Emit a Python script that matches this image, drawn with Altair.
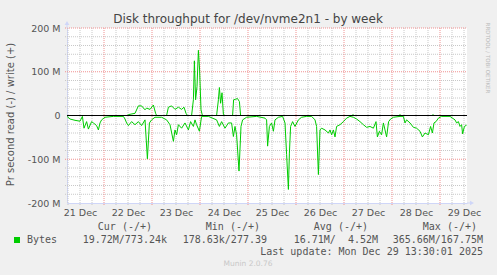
import altair as alt
import pandas as pd

# ---- data (hours since Dec 21 05:30, values in MB/s) ----
read_h = [0, 1.5, 4, 6.5, 7.7, 8.5, 9.8, 10.7, 12.3, 13.2,
          14.8, 15.7, 16.5, 17.3, 19, 23.2, 28.2, 29, 29.8, 30.7,
          32.3, 34, 35.7, 37.3, 39, 40.2, 41.2, 42.3, 44, 47.3,
          49.8, 51.5, 53.2, 54, 54.8, 55.7, 57.3, 59, 60.7, 61.8,
          63.2, 64, 64.8, 66.2, 67.3, 70.7, 74.8, 76.2, 77.3, 79,
          80.7, 82.3, 83.2, 84, 84.8, 86, 87, 87.8, 89.8, 94.8,
          99, 99.8, 100.3, 101.2, 102.3, 103.2, 104, 105.7, 107.8, 109,
          109.8, 110.7, 111.2, 111.8, 112.8, 114, 115.7, 117.3, 119.8, 122.3,
          124, 124.8, 125.7, 126.5, 127.3, 129, 130.7, 131.5, 132.3, 133.2,
          134, 134.8, 136.5, 138.2, 139.8, 141.5, 143.2, 144.8, 146.5, 148.2,
          149.8, 151.5, 153.2, 154.5, 155.2, 156.2, 157.3, 158.2, 159, 159.8,
          160.8, 161.8, 163.2, 166.5, 168.2, 169, 169.8, 171.5, 173.2, 174.8,
          176.5, 177.7, 179, 180.7, 181.8, 182.7, 183.5, 184.5, 185.7, 187.3,
          191.5, 194, 194.8, 195.7, 196.5, 197.3, 197.8, 198.7, 199.8]
read_v = [-2, -8, -11, -13, -2, -29, -14, -31, -14, -17,
          -23, -33, -17, -10, -4, -2, -2, -8, -17, -23,
          -14, -21, -14, -23, -10, -99, -17, -10, -4, -4,
          -10, -21, -59, -33, -44, -21, -29, -17, -33, -14,
          -25, -10, -21, -36, -2, -2, -10, -25, -14, -29,
          -17, -17, -48, -25, -44, -127, -25, -10, -4, -2,
          -6, -10, -70, -25, -17, -36, -10, -4, -2, -17,
          -89, -169, -86, -25, -14, -25, -10, -4, -2, -2,
          -10, -25, -135, -33, -29, -33, -40, -33, -44, -33,
          -49, -25, -21, -14, -6, -2, -4, -8, -14, -21,
          -27, -25, -29, -14, -49, -36, -44, -17, -33, -49,
          -14, -8, -4, -2, -2, -17, -10, -17, -27, -29,
          -36, -49, -40, -44, -25, -40, -17, -14, -6, -2,
          -2, -10, -17, -14, -25, -21, -42, -25, -22]
write_h = [0, 30, 30.7, 34, 35.7, 37.3, 39, 39.8, 41.5, 43.2,
           44.3, 44.8, 49.8, 50.7, 52.3, 54, 55.7, 57.3, 58.5, 59.5,
           60.2, 62.3, 63.2, 63.7, 64.3, 65, 65.7, 66.3, 67, 67.7,
           74.8, 75.7, 76.2, 76.8, 77.5, 78.2, 79, 82.8, 83.3, 84.3,
           85.2, 86.2, 86.8, 142.5, 143, 143.5, 166, 166.5, 167, 182.5,
           183, 183.5, 200]
write_v = [0, 0, 2, 5, 22, 22, 13, 17, 14, 24,
           5, 0, 0, 19, 22, 14, 19, 14, 19, 5,
           0, 0, 36, 125, 36, 66, 149, 104, 13, 0,
           0, 36, 64, 28, 52, 2, 0, 0, 36, 37,
           39, 32, 0, 0, 2, 0, 0, 2, 0, 0,
           2, 0, 0]

day_labels = ["21 Dec", "22 Dec", "23 Dec", "24 Dec", "25 Dec",
              "26 Dec", "27 Dec", "28 Dec", "29 Dec"]
day_label_h = [6.5, 30.5, 54.5, 78.5, 102.5, 126.5, 150.5, 174.5, 198.5]
y_ticks = [-200, -100, 0, 100, 200]
y_tick_labels = ["-200 M", "-100 M", "0", "100 M", "200 M"]

title_text = "Disk throughput for /dev/nvme2n1 - by week"
y_title = "Pr second read (-) / write (+)"
legend_headers = ["Cur (-/+)", "Min (-/+)", "Avg (-/+)", "Max (-/+)"]
legend_values = ["19.72M/773.24k", "178.63k/277.39", "16.71M/\u00a0\u00a04.52M", "365.66M/167.75M"]
series_name = "Bytes"
last_update = "Last update: Mon Dec 29 13:30:01 2025"
munin_ver = "Munin 2.0.76"
rrd_credit = "RRDTOOL / TOBI OETIKER"

# grid positions (styling)
major_x = [18.5 + 24 * k for k in range(8)]
minor_x = [0.5 + 6 * k for k in range(34) if (0.5 + 6 * k) not in major_x]
major_y = [-100, 100, 200]
minor_y = [v for v in range(-180, 200, 20) if v % 100 != 0]

GREEN = "#00CC00"
AXISC = "#CFD6F8"
FONT = "DejaVu Sans"
MONO = "DejaVu Sans Mono"
TXT = "#555555"

lines = pd.DataFrame({
    "h": read_h + write_h,
    "v": read_v + write_v,
    "s": ["read"] * len(read_h) + ["write"] * len(write_h),
})

xs = alt.Scale(domain=[0, 200], nice=False, zero=False)
ys = alt.Scale(domain=[-200, 200], nice=False)


def js_list(items):
    return "[" + ",".join(repr(i) for i in items) + "]"


lab_expr_x = f"{js_list(day_labels)}[indexof({js_list(day_label_h)}, datum.value)]"
lab_expr_y = f"{js_list(y_tick_labels)}[indexof({js_list(y_ticks)}, datum.value)]"

x_axis = alt.Axis(values=day_label_h, labelExpr=lab_expr_x, grid=False, ticks=False,
                  domainColor=AXISC, labelFont=FONT, labelFontSize=9.5, labelColor=TXT,
                  labelPadding=4, title="", labelFlush=False)
y_axis = alt.Axis(values=y_ticks, labelExpr=lab_expr_y, grid=False, ticks=False,
                  domainColor=AXISC, labelFont=FONT, labelFontSize=9.5, labelColor=TXT,
                  labelPadding=7, title=y_title, titleFont=FONT, titleFontSize=10,
                  titleFontWeight="normal", titleColor=TXT, titleAngle=-90,
                  titleX=-57, titleY=86, titleAlign="center", titleBaseline="middle")


def X(field="h"):
    return alt.X(f"{field}:Q", scale=xs, axis=x_axis)


def Y(field="v"):
    return alt.Y(f"{field}:Q", scale=ys, axis=y_axis)


minor_dash = [1, 1]
gx_minor = alt.Chart(pd.DataFrame({"h": minor_x})).mark_rule(
    color="#C8C8C8", strokeDash=minor_dash, strokeWidth=1).encode(
    x=X(), y=alt.value(0), y2=alt.value(177))
gx_major = alt.Chart(pd.DataFrame({"h": major_x})).mark_rule(
    color="#F09090", strokeDash=minor_dash, strokeWidth=1).encode(
    x=X(), y=alt.value(0), y2=alt.value(177))
gy_minor = alt.Chart(pd.DataFrame({"v": minor_y})).mark_rule(
    color="#C8C8C8", strokeDash=minor_dash, strokeWidth=1).encode(
    y=Y(), x=alt.value(-2), x2=alt.value(400))
gy_major = alt.Chart(pd.DataFrame({"v": major_y})).mark_rule(
    color="#F09090", strokeDash=minor_dash, strokeWidth=1).encode(
    y=Y(), x=alt.value(-2), x2=alt.value(400))

line = alt.Chart(lines).mark_line(color=GREEN, strokeWidth=1).encode(
    x=X(), y=Y(), detail="s:N", order="h:Q")

zero = alt.Chart(pd.DataFrame({"v": [0]})).mark_rule(color="black", strokeWidth=1).encode(
    y=Y(), x=alt.value(0), x2=alt.value(400))

one = pd.DataFrame({"a": [0]})


def txt(t, x, y, font=FONT, size=10, color=TXT, align="center", angle=0, baseline="middle"):
    return alt.Chart(one).mark_text(text=t, font=font, fontSize=size, color=color,
                                    align=align, baseline=baseline, angle=angle).encode(
        x=alt.value(x), y=alt.value(y))


# axis extensions + arrows
yext = alt.Chart(one).mark_rule(color=AXISC).encode(x=alt.value(0), y=alt.value(-4), y2=alt.value(0))
xext = alt.Chart(one).mark_rule(color=AXISC).encode(x=alt.value(400), x2=alt.value(404), y=alt.value(175))
arrow_up = alt.Chart(one).mark_point(shape="triangle-up", size=22, filled=True, opacity=1,
                                     color=AXISC).encode(x=alt.value(0), y=alt.value(-5))
arrow_right = alt.Chart(one).mark_point(shape="triangle-right", size=22, filled=True, opacity=1,
                                        color=AXISC).encode(x=alt.value(405), y=alt.value(175))

texts = [
    txt(title_text, 181, -9, size=12, color="#444444"),
    txt(rrd_credit, 421, 30, size=5.5, color="#BBBBBB", angle=90),
    txt(munin_ver, 181, 236, size=7.5, color="#C8C8C8"),
    txt(series_name, -40, 212, font=MONO, align="left"),
    txt(last_update, 416, 224, font=MONO, align="right"),
]
hdr_right = [85, 193, 301, 410]
val_right = [100, 200, 311, 416]
for t, xr in zip(legend_headers, hdr_right):
    texts.append(txt(t, xr, 199, font=MONO, align="right"))
for t, xr in zip(legend_values, val_right):
    texts.append(txt(t, xr, 212, font=MONO, align="right"))

swatch = alt.Chart(one).mark_square(size=36, color=GREEN, filled=True, opacity=1).encode(
    x=alt.value(-50), y=alt.value(212))

chart = alt.layer(
    gx_minor, gy_minor, gx_major, gy_major, line, zero,
    yext, xext, arrow_up, arrow_right, swatch, *texts
).properties(
    width=400, height=175,
    autosize=alt.AutoSizeParams(type="none"),
    padding={"left": 67, "top": 28, "right": 30, "bottom": 72},
    background="#F0F0F0",
).configure_view(fill="white", strokeWidth=0)

chart.save("out.html", embed_options={"renderer": "svg", "actions": False})
